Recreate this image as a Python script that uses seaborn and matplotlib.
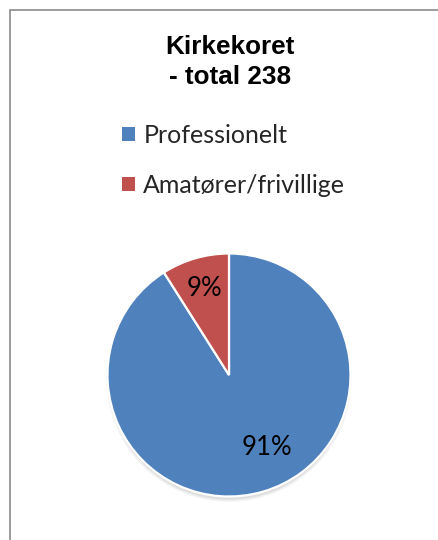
import matplotlib
matplotlib.use("Agg")
import matplotlib.pyplot as plt
import seaborn as sns
from matplotlib.patches import Patch, Rectangle, Circle

# ---- data ----
categories = ["Professionelt", "Amatører/frivillige"]
values = [91, 9]
title_lines = ["Kirkekoret", "- total 238"]

sns.set_theme(style="white")
plt.rcParams['font.family'] = ['Lato', 'DejaVu Sans']

colors = ["#4F81BD", "#C0504D"]

W, H = 438, 540
fig = plt.figure(figsize=(W / 100, H / 100), dpi=100)
fig.patch.set_facecolor("white")

# outer chart frame (extends beyond the right/bottom edges)
fig.add_artist(Rectangle((10 / W, -0.1), 1.2, 1 - 10 / H + 0.1,
                         transform=fig.transFigure, fill=False,
                         edgecolor="#8a8a8a", linewidth=1.2))

# pie axes: centre (229, 375) px, radius ~121.5 px
cx, cy, r = 229, 375, 121.5
lim = 1.08
size = 2 * r * lim
ax = fig.add_axes([(cx - size / 2) / W, (H - cy - size / 2) / H, size / W, size / H])

# soft shadow under the pie (mostly below)
for k, a in enumerate([0.035, 0.045, 0.055]):
    ax.add_patch(Circle((0, -0.035), 0.99 + 0.01 * (2 - k), color="#000000",
                        alpha=a, lw=0, zorder=0))

wedges, texts, autotexts = ax.pie(
    values, colors=colors, startangle=90, counterclock=False,
    autopct=lambda p: f"{p:.0f}%", pctdistance=0.72,
    wedgeprops=dict(edgecolor="white", linewidth=1.6),
    textprops=dict(fontsize=18.5, color="black"))
for w in wedges:
    w.set_zorder(2)
autotexts[0].set_position((0.313, -0.593))
autotexts[1].set_position((-0.206, 0.708))
ax.set_xlim(-lim, lim)
ax.set_ylim(-lim, lim)
ax.set_aspect("equal")
ax.axis("off")

# title
fig.text(230 / W, 1 - 35 / H, "\n".join(title_lines), ha="center", va="top",
         fontsize=18.8, fontweight="bold", family="Liberation Sans",
         linespacing=1.3, color="black")

# legend
handles = [Patch(facecolor=c, edgecolor="none") for c in colors]
leg = fig.legend(handles, categories, loc="upper left",
                 bbox_to_anchor=(122 / W, 1 - 124 / H),
                 frameon=False, fontsize=18, handlelength=0.5,
                 handleheight=0.5, handletextpad=0.35, labelspacing=1.08,
                 borderpad=0, borderaxespad=0)

fig.savefig("out.png", dpi=100, facecolor="white")
